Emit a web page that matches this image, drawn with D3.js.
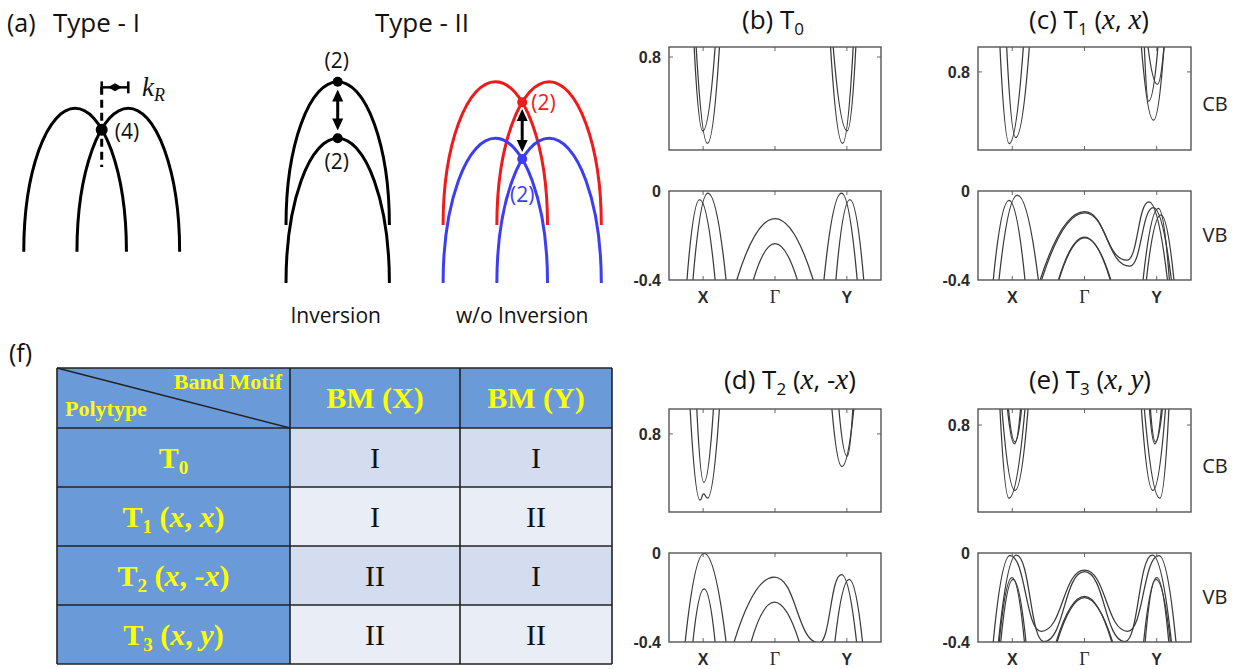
<!DOCTYPE html>
<html><head><meta charset="utf-8">
<script src="https://cdn.jsdelivr.net/npm/d3@7"></script>
<style>
body{margin:0;background:#fff}
svg{display:block}
</style></head>
<body><svg id="fig" width="1235" height="669"></svg>
<script>
// ================= DATA =================
// k axis: X = -1, Γ = 0, Y = +1 ; energies in eV
const kTickPos = [-1, 0, 1];
const kTickLabels = ["X", "Γ", "Y"];
const vbTicks = [0, -0.4];
const cbTicks = [0.8];

// each band: [k, E] points; first/last on the frame, inner points are extrema
const bandsB_CB = [
  [[-1.125,0.845],[-1.005,0.468],[-0.833,0.845]],
  [[-1.097,0.845],[-0.940,0.412],[-0.773,0.845]],
  [[0.773,0.845],[0.940,0.412],[1.088,0.845]],
  [[0.810,0.845],[1.004,0.468],[1.125,0.845]]
];
const bandsB_VB = [
  [[-1.225,-0.4],[-1.049,-0.039],[-0.833,-0.4]],
  [[-1.142,-0.4],[-0.935,-0.009],[-0.681,-0.4]],
  [[-0.532,-0.4],[0,-0.124],[0.532,-0.4]],
  [[-0.301,-0.4],[0,-0.237],[0.311,-0.4]],
  [[0.681,-0.4],[0.926,-0.009],[1.144,-0.4]],
  [[0.847,-0.4],[1.042,-0.039],[1.235,-0.4]]
];
const bandsC_CB = [
  [[-1.171,0.912],[-1.042,0.478],[-0.847,0.912]],
  [[-1.078,0.912],[-0.953,0.505],[-0.764,0.912]],
  [[0.788,0.912],[0.956,0.583],[1.101,0.912]],
  [[0.829,0.912],[0.888,0.668],[1.017,0.912]],
  [[0.880,0.912],[1.009,0.744],[1.101,0.912]]
];
const bandsC_VB = [
  [[-1.264,-0.4],[-1.046,-0.042],[-0.824,-0.4]],
  [[-1.185,-0.4],[-0.931,-0.019],[-0.639,-0.4]],
  [[-0.615,-0.4],[0,-0.093],[0.589,-0.311],[0.892,-0.049],[1.149,-0.4]],
  [[-0.594,-0.4],[0,-0.098],[0.628,-0.338],[0.954,-0.075],[1.204,-0.4]],
  [[0.811,-0.4],[1.024,-0.078],[1.176,-0.4]],
  [[0.857,-0.4],[1.058,-0.107],[1.239,-0.4]],
  [[-0.361,-0.4],[0,-0.207],[0.357,-0.4]],
  [[-0.355,-0.4],[0.005,-0.211],[0.365,-0.4]]
];
const bandsD_CB = [
  [[-1.181,0.912],[-1.042,0.502],[-0.993,0.530],[-0.940,0.511],[-0.774,0.912]],
  [[-1.088,0.912],[-0.990,0.582],[-0.857,0.912]],
  [[0.792,0.912],[0.931,0.653],[1.097,0.912]],
  [[0.889,0.912],[1.004,0.699],[1.083,0.912]]
];
const bandsD_VB = [
  [[-1.250,-0.4],[-0.986,-0.002],[-0.681,-0.4]],
  [[-1.143,-0.4],[-0.986,-0.161],[-0.833,-0.4]],
  [[-0.569,-0.4],[-0.010,-0.108],[0.615,-0.404],[0.926,-0.097],[1.135,-0.4]],
  [[-0.333,-0.4],[-0.010,-0.221],[0.338,-0.4]],
  [[0.833,-0.4],[1.032,-0.119],[1.218,-0.4]]
];
const bandsE_CB = [
  [[-1.171,0.872],[-1.046,0.471],[-0.824,0.872]],
  [[-1.143,0.872],[-0.963,0.506],[-0.782,0.872]],
  [[-1.067,0.872],[-0.969,0.715],[-0.886,0.872]],
  [[-1.053,0.872],[-0.963,0.724],[-0.872,0.872]],
  [[0.788,0.872],[0.947,0.506],[1.121,0.872]],
  [[0.829,0.872],[1.044,0.471],[1.169,0.872]],
  [[0.899,0.872],[0.975,0.715],[1.065,0.872]],
  [[0.913,0.872],[0.982,0.724],[1.079,0.872]]
];
const bandsE_VB = [
  [[-1.264,-0.4],[-1.032,-0.012],[-0.600,-0.352],[0,-0.077],[0.600,-0.352],[1.031,-0.012],[1.267,-0.4]],
  [[-1.192,-0.4],[-0.945,-0.010],[-0.560,-0.398],[0,-0.084],[0.560,-0.398],[0.940,-0.010],[1.204,-0.4]],
  [[-1.181,-0.4],[-1.004,-0.111],[-0.832,-0.4]],
  [[-1.160,-0.4],[-0.990,-0.118],[-0.810,-0.4]],
  [[0.819,-0.4],[1.003,-0.111],[1.167,-0.4]],
  [[0.840,-0.4],[0.990,-0.118],[1.190,-0.4]],
  [[-0.393,-0.4],[0,-0.195],[0.378,-0.4]],
  [[-0.380,-0.4],[0,-0.200],[0.390,-0.4]]
];
const cbDomains = {b:[0.382,0.845], c:[0.449,0.912], d:[0.449,0.912], e:[0.409,0.872]};

// schematic (a) : k in units of k_R (Type I) / arch half-width (Type II), E arbitrary
const typeIArches = [[-2.93, 0.93], [-0.93, 2.93]];
const typeIDot = [0, -0.15];
const invArches = [{k:[-1,1], top:0, base:-1}, {k:[-1,1], top:-0.395, base:-1.405}];
const invDots = [[0, 0], [0, -0.395]];
const woRed = [{k:[-1.53,0.49], top:0, base:-1}, {k:[-0.49,1.53], top:0, base:-1}];
const woBlue = [{k:[-1.53,0.49], top:-0.395, base:-1.405}, {k:[-0.49,1.53], top:-0.395, base:-1.405}];
const woDots = [[0, -0.143], [0, -0.54]];

// table (f)
const polytypes = [
  {sub:"0", args:null},
  {sub:"1", args:["x", "x"]},
  {sub:"2", args:["x", "-x"]},
  {sub:"3", args:["x", "y"]}
];
const tableHeads = ["BM (X)", "BM (Y)"];
const bmX = ["I", "I", "II", "II"];
const bmY = ["I", "II", "I", "II"];

// ================= DRAW =================
const svg = d3.select("#fig");
const defs = svg.append("defs");
const SANS = "'Open Sans', sans-serif";
const AX = "'Liberation Sans', Arial, sans-serif";
const SERIF = "'Liberation Serif', 'Times New Roman', serif";

function bandPath(pts, xs, ys) {
  const p = d3.path();
  const P = pts.map(d => [xs(d[0]), ys(d[1])]);
  const n = P.length;
  p.moveTo(P[0][0], P[0][1]);
  for (let i = 0; i < n - 1; i++) {
    const A = P[i], B = P[i + 1], mx = (A[0] + B[0]) / 2;
    if (n === 2) p.lineTo(B[0], B[1]);
    else if (i === 0) p.quadraticCurveTo(mx, B[1], B[0], B[1]);
    else if (i === n - 2) p.quadraticCurveTo(mx, A[1], B[0], B[1]);
    else p.bezierCurveTo(mx, A[1], mx, B[1], B[0], B[1]);
  }
  return p.toString();
}

const panels = [
  {id:"b", x0:669, x1:881, cb:[47,150], vb:[191,280], cbBands:bandsB_CB, vbBands:bandsB_VB,
   title:{x:773, y:29, lab:"(b) T", sub:"0", args:null}, side:false},
  {id:"c", x0:978, x1:1191, cb:[47,150], vb:[191,280], cbBands:bandsC_CB, vbBands:bandsC_VB,
   title:{x:1089, y:29, lab:"(c) T", sub:"1", args:["x","x"]}, side:true},
  {id:"d", x0:669, x1:881, cb:[409,512], vb:[553,642], cbBands:bandsD_CB, vbBands:bandsD_VB,
   title:{x:790, y:389, lab:"(d) T", sub:"2", args:["x","-x"]}, side:false},
  {id:"e", x0:978, x1:1191, cb:[409,512], vb:[553,642], cbBands:bandsE_CB, vbBands:bandsE_VB,
   title:{x:1090, y:389, lab:"(e) T", sub:"3", args:["x","y"]}, side:true}
];

panels.forEach(P => {
  const g = svg.append("g");
  const xs = d3.scaleLinear().domain([-1.475, 1.475]).range([P.x0, P.x1]);
  const yCB = d3.scaleLinear().domain(cbDomains[P.id]).range([P.cb[1], P.cb[0]]);
  const yVB = d3.scaleLinear().domain([-0.4, 0]).range([P.vb[1], P.vb[0]]);
  [[yCB, P.cbBands, "cb"], [yVB, P.vbBands, "vb"]].forEach(([ys, bands, nm]) => {
    const [r0, r1] = ys.range();
    const cid = "clip-" + P.id + nm;
    defs.append("clipPath").attr("id", cid).append("rect")
      .attr("x", P.x0).attr("y", r1).attr("width", P.x1 - P.x0).attr("height", r0 - r1);
    g.append("g").attr("clip-path", `url(#${cid})`).selectAll("path").data(bands).join("path")
      .attr("d", d => bandPath(d, xs, ys))
      .attr("fill", "none").attr("stroke", "#3a3a3a").attr("stroke-width", 1.25);
    kTickPos.forEach(k => {
      g.append("line").attr("x1", xs(k)).attr("x2", xs(k)).attr("y1", r1).attr("y2", r1 + 4)
        .attr("stroke", "#666").attr("stroke-width", 1);
      g.append("line").attr("x1", xs(k)).attr("x2", xs(k)).attr("y1", r0).attr("y2", r0 - 4)
        .attr("stroke", "#666").attr("stroke-width", 1);
    });
    g.append("rect").attr("x", P.x0).attr("y", r1).attr("width", P.x1 - P.x0).attr("height", r0 - r1)
      .attr("fill", "none").attr("stroke", "#555").attr("stroke-width", 1.4);
  });
  cbTicks.forEach(v => {
    [[P.x0, 4], [P.x1, -4]].forEach(([x, dx]) => g.append("line").attr("x1", x).attr("x2", x + dx)
      .attr("y1", yCB(v)).attr("y2", yCB(v)).attr("stroke", "#666"));
    g.append("text").attr("x", P.x0 - 8).attr("y", yCB(v)).attr("dy", "0.36em")
      .attr("text-anchor", "end").attr("font-family", AX).attr("font-size", 16).attr("font-weight", "bold")
      .attr("fill", "#2a2a2a").text(v.toFixed(1));
  });
  vbTicks.forEach(v => {
    g.append("text").attr("x", P.x0 - 8).attr("y", yVB(v)).attr("dy", "0.36em")
      .attr("text-anchor", "end").attr("font-family", AX).attr("font-size", 16).attr("font-weight", "bold")
      .attr("fill", "#2a2a2a").text(v === 0 ? "0" : v.toFixed(1));
  });
  kTickLabels.forEach((t, i) => {
    g.append("text").attr("x", xs(kTickPos[i])).attr("y", P.vb[1] + 17).attr("dy", "0.36em")
      .attr("text-anchor", "middle").attr("font-family", t === "Γ" ? SERIF : AX)
      .attr("font-size", t === "Γ" ? 18 : 16).attr("font-weight", t === "Γ" ? "normal" : "bold")
      .attr("fill", "#2a2a2a").text(t);
  });
  if (P.side) {
    g.append("text").attr("x", 1215).attr("y", (P.cb[0] + P.cb[1]) / 2 + 5).attr("dy", "0.36em")
      .attr("text-anchor", "middle").attr("font-family", SANS).attr("font-size", 20).attr("fill", "#222").text("CB");
    g.append("text").attr("x", 1215).attr("y", (P.vb[0] + P.vb[1]) / 2 - 1).attr("dy", "0.36em")
      .attr("text-anchor", "middle").attr("font-family", SANS).attr("font-size", 20).attr("fill", "#222").text("VB");
  }
  const T = P.title;
  const tt = g.append("text").attr("x", T.x).attr("y", T.y).attr("text-anchor", "middle")
    .attr("font-family", SANS).attr("font-size", 26).attr("fill", "#111");
  tt.append("tspan").text(T.lab);
  tt.append("tspan").attr("font-size", 17).attr("dy", 6).text(T.sub);
  if (T.args) {
    tt.append("tspan").attr("dy", -6).text(" (");
    tt.append("tspan").attr("font-family", SERIF).attr("font-style", "italic").attr("font-size", 29).text(T.args[0]);
    tt.append("tspan").text(", ");
    const a2 = T.args[1];
    if (a2[0] === "-") {
      tt.append("tspan").text("-");
      tt.append("tspan").attr("font-family", SERIF).attr("font-style", "italic").attr("font-size", 29).text(a2.slice(1));
    } else {
      tt.append("tspan").attr("font-family", SERIF).attr("font-style", "italic").attr("font-size", 29).text(a2);
    }
    tt.append("tspan").text(")");
  }
});

// ---------- panel (a) ----------
const ga = svg.append("g").attr("font-family", SANS).attr("fill", "#111");
ga.append("text").attr("x", 7).attr("y", 32).attr("font-size", 25).text("(a)");
ga.append("text").attr("x", 53).attr("y", 32).attr("font-size", 26).text("Type - I");
ga.append("text").attr("x", 422).attr("y", 32).attr("text-anchor", "middle").attr("font-size", 26).text("Type - II");

function arch(g, xs, ys, k0, k1, top, base, color) {
  const x0 = xs(k0), x1 = xs(k1), yb = ys(base), yt = ys(top);
  const rx = (x1 - x0) / 2, ry = yb - yt;
  g.append("path").attr("d", `M${x0},${yb} A${rx},${ry} 0 0 1 ${x1},${yb}`)
    .attr("fill", "none").attr("stroke", color).attr("stroke-width", 3);
}
function dblArrow(g, x, yA, yB, color) {
  const hl = 12, hw = 5.5;
  g.append("line").attr("x1", x).attr("x2", x).attr("y1", yA + hl - 1).attr("y2", yB - hl + 1)
    .attr("stroke", color).attr("stroke-width", 3);
  g.append("path").attr("d", `M${x},${yA} L${x - hw},${yA + hl} L${x + hw},${yA + hl} Z`).attr("fill", color);
  g.append("path").attr("d", `M${x},${yB} L${x - hw},${yB - hl} L${x + hw},${yB - hl} Z`).attr("fill", color);
}

// Type I
const sxI = d3.scaleLinear().domain([0, 1]).range([101.7, 128.3]);
const syI = d3.scaleLinear().domain([-1, 0]).range([251.7, 108.3]);
typeIArches.forEach(a => arch(ga, sxI, syI, a[0], a[1], 0, -1, "#000"));
ga.append("line").attr("x1", sxI(0)).attr("x2", sxI(0)).attr("y1", syI(0.15)).attr("y2", syI(-0.41))
  .attr("stroke", "#000").attr("stroke-width", 3).attr("stroke-dasharray", "8,5");
ga.append("circle").attr("cx", sxI(typeIDot[0])).attr("cy", syI(typeIDot[1])).attr("r", 6).attr("fill", "#000");
ga.append("text").attr("x", sxI(typeIDot[0]) + 13).attr("y", syI(typeIDot[1]) + 9).attr("font-size", 21).text("(4)");
const yb = syI(0.146);
ga.append("line").attr("x1", sxI(0)).attr("x2", sxI(1)).attr("y1", yb).attr("y2", yb).attr("stroke", "#000").attr("stroke-width", 2.5);
[0, 1].forEach(k => ga.append("line").attr("x1", sxI(k)).attr("x2", sxI(k)).attr("y1", yb - 6).attr("y2", yb + 6)
  .attr("stroke", "#000").attr("stroke-width", 2.5));
const xm = sxI(0.5);
ga.append("path").attr("d", `M${xm - 7},${yb} L${xm},${yb - 4} L${xm + 7},${yb} L${xm},${yb + 4} Z`).attr("fill", "#000");
const kt = ga.append("text").attr("x", 142).attr("y", 96).attr("font-family", SERIF).attr("font-style", "italic").attr("font-size", 27);
kt.append("tspan").text("k");
kt.append("tspan").attr("font-size", 18).attr("dy", 5).text("R");

// Type II inversion
const sxInv = d3.scaleLinear().domain([0, 1]).range([337.7, 389.4]);
const syII = d3.scaleLinear().domain([-1, 0]).range([225, 81.7]);
invArches.forEach(a => arch(ga, sxInv, syII, a.k[0], a.k[1], a.top, a.base, "#000"));
invDots.forEach(d => ga.append("circle").attr("cx", sxInv(d[0])).attr("cy", syII(d[1])).attr("r", 5).attr("fill", "#000"));
dblArrow(ga, sxInv(0), syII(-0.055), syII(-0.34), "#000");
ga.append("text").attr("x", sxInv(0) - 1).attr("y", syII(invDots[0][1]) - 14).attr("text-anchor", "middle").attr("font-size", 21).text("(2)");
ga.append("text").attr("x", sxInv(0) - 1).attr("y", syII(invDots[1][1]) + 31).attr("text-anchor", "middle").attr("font-size", 21).text("(2)");
ga.append("text").attr("x", sxInv(0) - 2).attr("y", 323).attr("text-anchor", "middle").attr("font-size", 21).text("Inversion");

// Type II without inversion
const RED = "#ef1a1a", BLUE = "#3d3df2";
const sxWo = d3.scaleLinear().domain([0, 1]).range([522.2, 573.9]);
woRed.forEach(a => arch(ga, sxWo, syII, a.k[0], a.k[1], a.top, a.base, RED));
woBlue.forEach(a => arch(ga, sxWo, syII, a.k[0], a.k[1], a.top, a.base, BLUE));
dblArrow(ga, sxWo(0), syII(-0.19), syII(-0.49), "#000");
ga.append("circle").attr("cx", sxWo(woDots[0][0])).attr("cy", syII(woDots[0][1])).attr("r", 5).attr("fill", RED);
ga.append("circle").attr("cx", sxWo(woDots[1][0])).attr("cy", syII(woDots[1][1])).attr("r", 5).attr("fill", BLUE);
ga.append("text").attr("x", sxWo(0) + 9).attr("y", syII(woDots[0][1]) + 8).attr("font-size", 21).attr("fill", RED).text("(2)");
ga.append("text").attr("x", sxWo(0)).attr("y", syII(woDots[1][1]) + 43).attr("text-anchor", "middle").attr("font-size", 21).attr("fill", BLUE).text("(2)");
ga.append("text").attr("x", sxWo(0)).attr("y", 323).attr("text-anchor", "middle").attr("font-size", 21).text("w/o Inversion");

// ---------- table (f) ----------
const gt = svg.append("g");
gt.append("text").attr("x", 9).attr("y", 362).attr("font-family", SANS).attr("font-size", 25).attr("fill", "#111").text("(f)");
const colX = d3.scaleOrdinal().domain([0, 1, 2, 3]).range([57, 290, 460, 612]);
const rowY = d3.scaleLinear().domain([0, 1]).range([428, 487]);
const BLUEH = "#6a9ad8", YEL = "#ffff00";
const rowsN = polytypes.length;
gt.append("rect").attr("x", colX(0)).attr("y", 368).attr("width", colX(3) - colX(0)).attr("height", rowY(0) - 368).attr("fill", BLUEH);
polytypes.forEach((p, i) => {
  const y0 = rowY(i), y1 = rowY(i + 1);
  gt.append("rect").attr("x", colX(0)).attr("y", y0).attr("width", colX(1) - colX(0)).attr("height", y1 - y0).attr("fill", BLUEH);
  gt.append("rect").attr("x", colX(1)).attr("y", y0).attr("width", colX(3) - colX(1)).attr("height", y1 - y0)
    .attr("fill", i % 2 === 0 ? "#d3ddef" : "#e9edf6");
});
const gridC = "#222";
[368].concat(d3.range(rowsN + 1).map(rowY)).forEach(y =>
  gt.append("line").attr("x1", colX(0)).attr("x2", colX(3)).attr("y1", y).attr("y2", y).attr("stroke", gridC).attr("stroke-width", 1.6));
[0, 1, 2, 3].forEach(c =>
  gt.append("line").attr("x1", colX(c)).attr("x2", colX(c)).attr("y1", 368).attr("y2", rowY(rowsN)).attr("stroke", gridC).attr("stroke-width", 1.6));
gt.append("line").attr("x1", colX(0)).attr("y1", 368).attr("x2", colX(1)).attr("y2", rowY(0)).attr("stroke", gridC).attr("stroke-width", 1.5);
gt.append("text").attr("x", colX(1) - 8).attr("y", 389).attr("text-anchor", "end").attr("font-family", SERIF)
  .attr("font-weight", "bold").attr("font-size", 22).attr("fill", YEL).text("Band Motif");
gt.append("text").attr("x", 65).attr("y", 416).attr("font-family", SERIF)
  .attr("font-weight", "bold").attr("font-size", 22).attr("fill", YEL).text("Polytype");
tableHeads.forEach((h, j) => {
  gt.append("text").attr("x", (colX(j + 1) + colX(j + 2)) / 2).attr("y", 408).attr("text-anchor", "middle")
    .attr("font-family", SERIF).attr("font-weight", "bold").attr("font-size", 30).attr("fill", YEL).text(h);
});
polytypes.forEach((p, i) => {
  const yc = (rowY(i) + rowY(i + 1)) / 2;
  const t = gt.append("text").attr("x", (colX(0) + colX(1)) / 2).attr("y", yc + 10).attr("text-anchor", "middle")
    .attr("font-family", SERIF).attr("font-weight", "bold").attr("font-size", 30).attr("fill", YEL);
  t.append("tspan").text("T");
  t.append("tspan").attr("font-size", 19).attr("dy", 6).text(p.sub);
  if (p.args) {
    t.append("tspan").attr("dy", -6).text(" (");
    t.append("tspan").attr("font-style", "italic").text(p.args[0]);
    t.append("tspan").text(", ");
    const a2 = p.args[1];
    if (a2[0] === "-") { t.append("tspan").text("-"); t.append("tspan").attr("font-style", "italic").text(a2.slice(1)); }
    else t.append("tspan").attr("font-style", "italic").text(a2);
    t.append("tspan").text(")");
  }
  [bmX[i], bmY[i]].forEach((v, j) => {
    gt.append("text").attr("x", (colX(j + 1) + colX(j + 2)) / 2).attr("y", yc + 10).attr("text-anchor", "middle")
      .attr("font-family", SERIF).attr("font-size", 30).attr("fill", "#111").text(v);
  });
});
</script></body></html>
